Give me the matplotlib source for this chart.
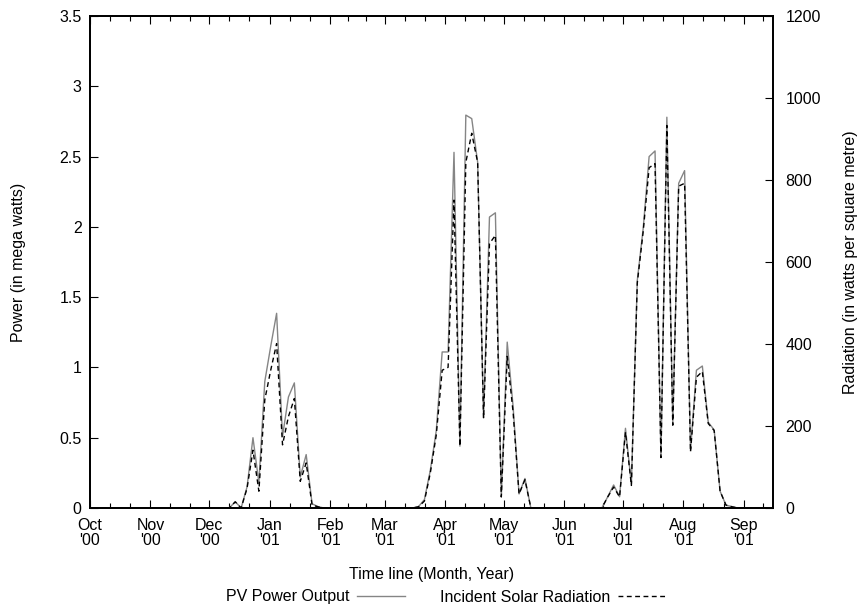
import numpy as np
import pandas as pd
import matplotlib
matplotlib.use('Agg')
import matplotlib.pyplot as plt
from matplotlib.ticker import FuncFormatter

plt.rcParams['font.family'] = ['Liberation Sans', 'DejaVu Sans']
plt.rcParams['font.size'] = 11.5

# ---- data: one sample every ~3 days starting 1 Oct 2000 ----
START_DAY = 1.7      # first sample, days after 1 Oct 2000
STEP_DAYS = 3.03     # sample spacing in days

# PV power output (MW)
power_mw = [
    0, 0, 0, 0, 0, 0, 0, 0, 0, 0,
    0, 0, 0, 0, 0, 0, 0, 0, 0, 0,
    0, 0, 0, 0, 0.045, 0, 0.15, 0.50, 0.18, 0.90,
    1.15, 1.385, 0.51, 0.79, 0.89, 0.22, 0.38, 0.03, 0.01, 0,
    0, 0, 0, 0, 0, 0, 0, 0, 0, 0,
    0, 0, 0, 0, 0, 0.01, 0.06, 0.27, 0.55, 1.11,
    1.11, 2.53, 0.44, 2.795, 2.77, 2.46, 0.64, 2.07, 2.10, 0.08,
    1.18, 0.72, 0.10, 0.21, 0, 0, 0, 0, 0, 0,
    0, 0, 0, 0, 0, 0, 0, 0.08, 0.164, 0.08,
    0.567, 0.17, 1.62, 1.99, 2.50, 2.54, 0.365, 2.78, 0.60, 2.31,
    2.40, 0.41, 0.98, 1.01, 0.61, 0.555, 0.12, 0.02, 0.01, 0,
    0, 0, 0, 0, 0,
]

# incident solar radiation (W/m^2)
radiation_wm2 = [
    0, 0, 0, 0, 0, 0, 0, 0, 0, 0,
    0, 0, 0, 0, 0, 0, 0, 0, 0, 0,
    0, 0, 0, 0, 15, 0, 48, 141, 41, 264,
    336, 401, 154, 223, 267, 65, 110, 7, 3, 0,
    0, 0, 0, 0, 0, 0, 0, 0, 0, 0,
    0, 0, 0, 0, 0, 3, 17, 86, 178, 336,
    343, 751, 151, 843, 914, 843, 219, 645, 665, 27,
    370, 233, 34, 69, 0, 0, 0, 0, 0, 0,
    0, 0, 0, 0, 0, 0, 0, 27, 51, 27,
    185, 55, 549, 675, 830, 840, 123, 933, 202, 785,
    792, 137, 319, 333, 206, 189, 41, 7, 3, 0,
    0, 0, 0, 0, 0,
]

month_starts = pd.date_range('2000-10-01', '2001-10-01', freq='MS')
x_end = 350  # days shown on the time axis

days = START_DAY + STEP_DAYS * np.arange(len(power_mw))
origin = month_starts[0]
month_days = [(m - origin).days for m in month_starts]
major = [d for d in month_days if d <= x_end]
major_labels = [m.strftime("%b\n'%y") for m in month_starts if (m - origin).days <= x_end]
minor = []
for a, b in zip(month_days[:-1], month_days[1:]):
    for f in (1 / 3, 2 / 3):
        t = a + (b - a) * f
        if t < x_end:
            minor.append(t)

# ---- plot ----
fig = plt.figure(figsize=(8.64, 6.11), dpi=100)
ax = fig.add_axes([90 / 864, 1 - 508 / 611, 683 / 864, 492 / 611])
ax2 = ax.twinx()

ln1, = ax.plot(days, power_mw, color='#858585', lw=1.0, label='PV Power Output')
ln2, = ax2.plot(days, radiation_wm2, color='black', lw=1.0, linestyle=(0, (3.5, 2.5)),
                label='Incident Solar Radiation')

ax.set_xlim(0, x_end)
ax.set_ylim(0, 3.5)
ax2.set_ylim(0, 1200)
ax.set_yticks(np.arange(0, 3.51, 0.5))
ax.yaxis.set_major_formatter(FuncFormatter(lambda v, p: f'{v:g}'))
ax2.set_yticks(np.arange(0, 1201, 200))

ax.set_xticks(major)
ax.set_xticklabels(major_labels, linespacing=1.05)
ax.set_xticks(minor, minor=True)

ax.tick_params(axis='x', which='both', direction='in', top=True, pad=7)
ax.tick_params(axis='x', which='major', length=6, width=0.8)
ax.tick_params(axis='x', which='minor', length=3.5, width=0.8)
ax.tick_params(axis='y', direction='in', right=False, length=6, width=0.8, pad=6)
ax2.tick_params(axis='y', direction='in', left=False, length=6, width=0.8, pad=9)

for a in (ax, ax2):
    for s in a.spines.values():
        s.set_linewidth(1.3)

ax.set_xlabel('Time line (Month, Year)')
ax.xaxis.set_label_coords(0.5, -0.12)
ax.set_ylabel('Power (in mega watts)')
ax.yaxis.set_label_coords(-0.094, 0.5)
ax2.set_ylabel('Radiation (in watts per square metre)')
ax2.yaxis.set_label_coords(1.102, 0.5)

fig.legend(handles=[ln1, ln2], loc='center', bbox_to_anchor=(446 / 864, 1 - 597 / 611),
           ncol=2, frameon=False, markerfirst=False, handlelength=3.0,
           handletextpad=0.5, columnspacing=2.2)

fig.savefig('out.png', dpi=100)
